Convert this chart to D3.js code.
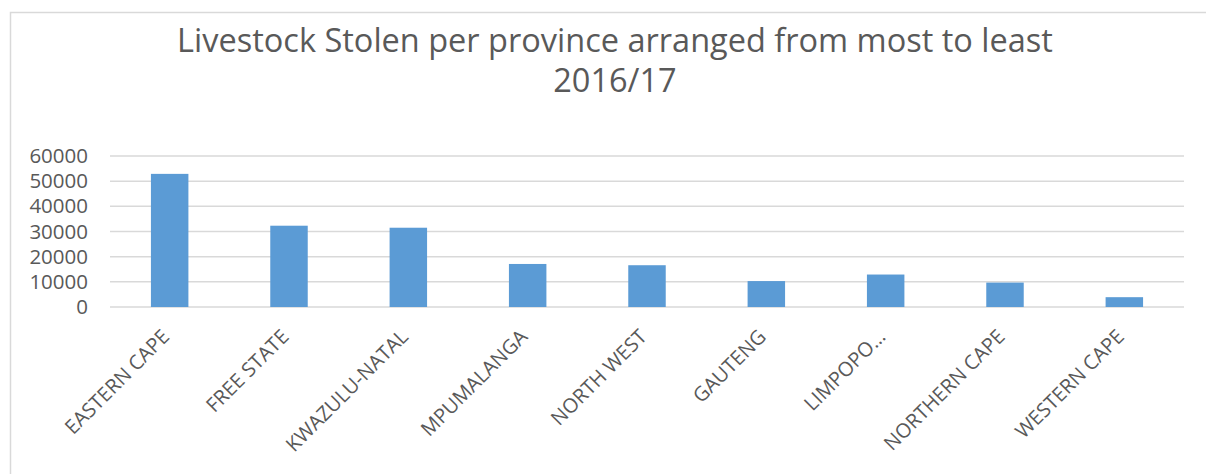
<!DOCTYPE html>
<html>
<head>
<meta charset="utf-8">
<script src="https://cdn.jsdelivr.net/npm/d3@7"></script>
<style>
  body { margin: 0; background: #fff; }
  svg { display: block; font-family: 'Open Sans', sans-serif; }
</style>
</head>
<body>
<div id="chart"></div>
<script>
// Data
const provinces = ['EASTERN CAPE', 'FREE STATE', 'KWAZULU-NATAL', 'MPUMALANGA', 'NORTH WEST',
  'GAUTENG', 'LIMPOPO…', 'NORTHERN CAPE', 'WESTERN CAPE'];
const stolen = [52900, 32300, 31500, 17100, 16600, 10300, 12900, 9700, 3900];
const yTicks = [0, 10000, 20000, 30000, 40000, 50000, 60000];
const titleLines = ['Livestock Stolen per province arranged from most to least', '2016/17'];

const W = 1206;
const H = 474;
const plotLeft = 110;
const plotRight = 1184;
const plotTop = 156;
const plotBottom = 307;

const data = provinces.map((p, i) => ({ name: p, value: stolen[i] }));

const svg = d3.select('#chart')
  .append('svg')
  .attr('width', W)
  .attr('height', H);

// Chart area border
svg.append('rect')
  .attr('x', 10.5)
  .attr('y', 12.5)
  .attr('width', W)
  .attr('height', H)
  .attr('fill', 'none')
  .attr('stroke', '#d9d9d9')
  .attr('stroke-width', 1.5);

// Title
svg.append('text')
  .attr('x', 615)
  .attr('y', 52)
  .attr('text-anchor', 'middle')
  .attr('font-size', 32.5)
  .attr('fill', '#595959')
  .selectAll('tspan')
  .data(titleLines).enter()
  .append('tspan')
  .attr('x', 615)
  .attr('dy', (d, i) => (i === 0 ? 0 : 40))
  .text((d) => d);

const x = d3.scaleBand().domain(provinces).range([plotLeft, plotRight]).paddingInner(0.686).paddingOuter(0.343);
const y = d3.scaleLinear().domain([0, 60000]).range([plotBottom, plotTop]);

// Gridlines
svg.append('g')
  .selectAll('line')
  .data(yTicks).enter()
  .append('line')
  .attr('x1', plotLeft)
  .attr('x2', plotRight)
  .attr('y1', (d) => y(d))
  .attr('y2', (d) => y(d))
  .attr('stroke', '#d9d9d9')
  .attr('stroke-width', 1.5);

// Y axis labels
const yAxis = d3.axisLeft(y).tickValues(yTicks).tickSize(0).tickPadding(22).tickFormat(d3.format('d'));
svg.append('g')
  .attr('transform', `translate(${plotLeft}, 0)`)
  .call(yAxis)
  .call((g) => g.select('.domain').remove())
  .selectAll('text')
  .attr('font-size', 20.5)
  .attr('font-family', "'Open Sans', sans-serif")
  .attr('fill', '#595959');

// Bars
svg.append('g')
  .selectAll('rect')
  .data(data).enter()
  .append('rect')
  .attr('x', (d) => x(d.name))
  .attr('y', (d) => y(d.value))
  .attr('width', x.bandwidth())
  .attr('height', (d) => y(0) - y(d.value))
  .attr('fill', '#5b9bd5');

// Rotated category labels
svg.append('g')
  .selectAll('text')
  .data(data).enter()
  .append('text')
  .attr('transform', (d) => `translate(${x(d.name) + x.bandwidth() / 2 + 1}, ${plotBottom + 31}) rotate(-45)`)
  .attr('text-anchor', 'end')
  .attr('font-size', 20)
  .attr('fill', '#595959')
  .text((d) => d.name);
</script>
</body>
</html>
